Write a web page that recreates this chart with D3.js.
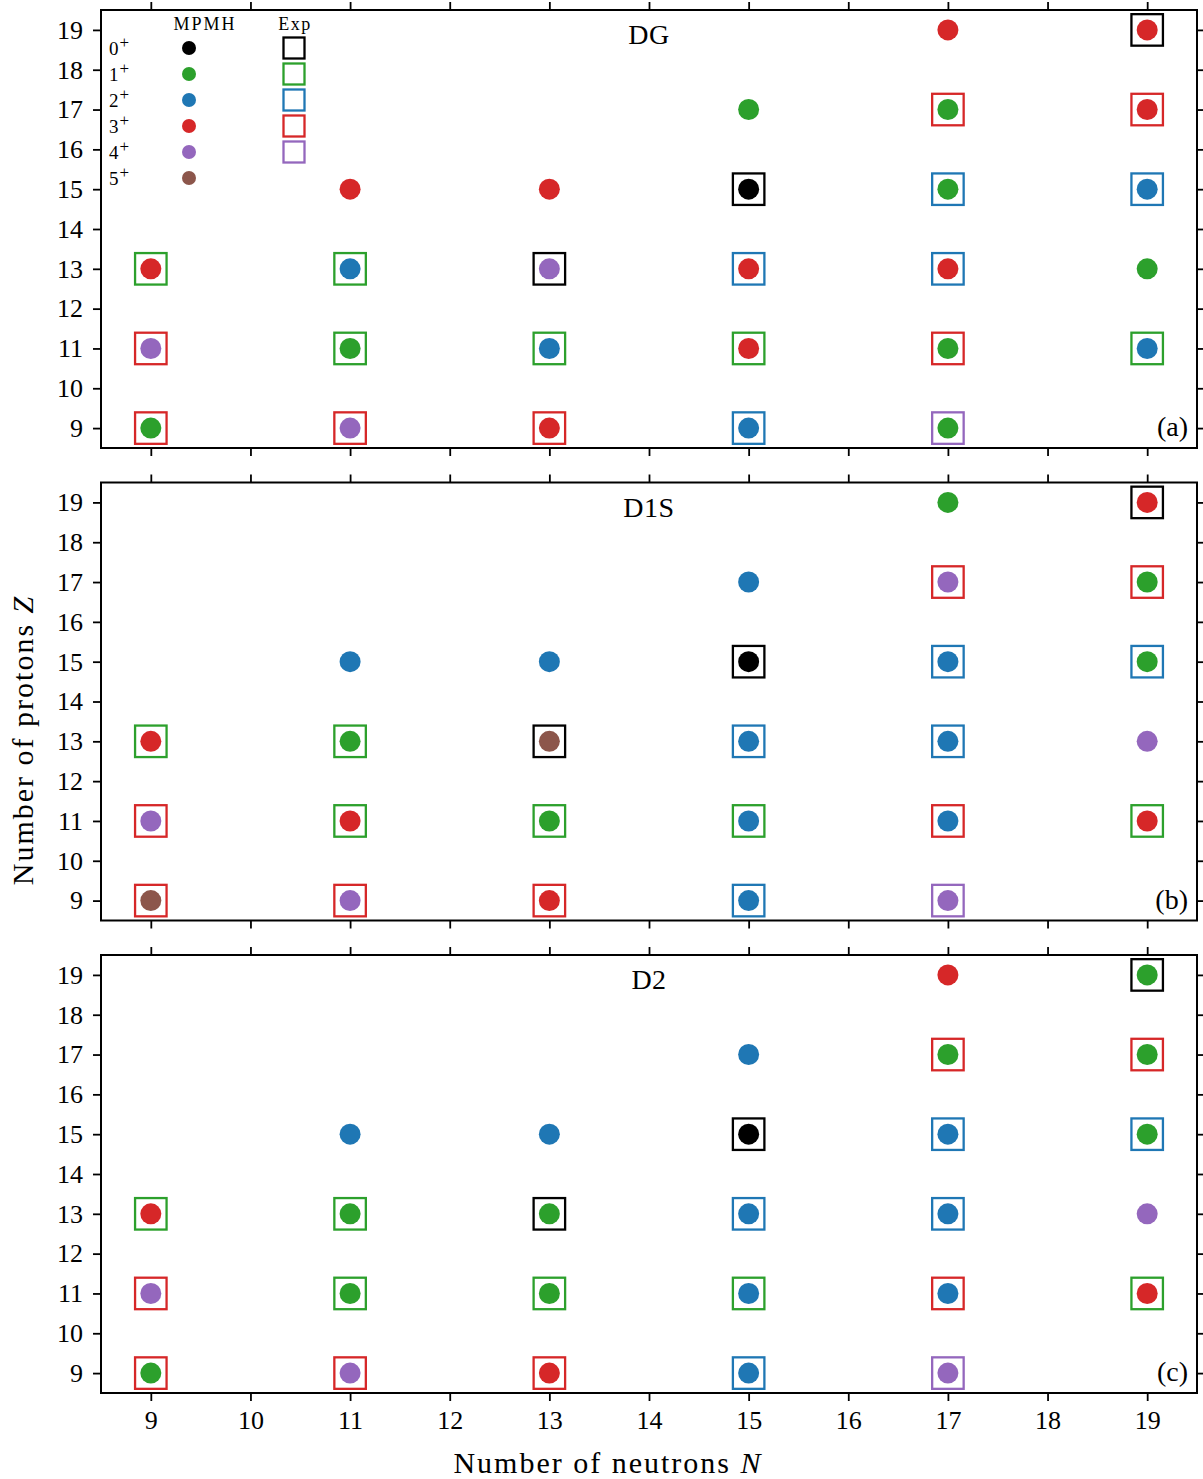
<!DOCTYPE html>
<html><head><meta charset="utf-8">
<script src="https://cdn.jsdelivr.net/npm/d3@7"></script>
<style>body{margin:0;background:#fff}</style>
</head><body>
<script>
// Data: [N, Z, J]
const xTicks = [9,10,11,12,13,14,15,16,17,18,19];
const yTicks = [9,10,11,12,13,14,15,16,17,18,19];
const spins = [0,1,2,3,4,5];
const panelNames = ["DG","D1S","D2"];
const panelTags = ["(a)","(b)","(c)"];
const expData = [
  [9,13,1],[9,11,3],[9,9,3],
  [11,13,1],[11,11,1],[11,9,3],
  [13,13,0],[13,11,1],[13,9,3],
  [15,15,0],[15,13,2],[15,11,1],[15,9,2],
  [17,17,3],[17,15,2],[17,13,2],[17,11,3],[17,9,4],
  [19,19,0],[19,17,3],[19,15,2],[19,11,1]
];
const dgData = [
  [9,13,3],[9,11,4],[9,9,1],
  [11,15,3],[11,13,2],[11,11,1],[11,9,4],
  [13,15,3],[13,13,4],[13,11,2],[13,9,3],
  [15,17,1],[15,15,0],[15,13,3],[15,11,3],[15,9,2],
  [17,19,3],[17,17,1],[17,15,1],[17,13,3],[17,11,1],[17,9,1],
  [19,19,3],[19,17,3],[19,15,2],[19,13,1],[19,11,2]
];
const d1sData = [
  [9,13,3],[9,11,4],[9,9,5],
  [11,15,2],[11,13,1],[11,11,3],[11,9,4],
  [13,15,2],[13,13,5],[13,11,1],[13,9,3],
  [15,17,2],[15,15,0],[15,13,2],[15,11,2],[15,9,2],
  [17,19,1],[17,17,4],[17,15,2],[17,13,2],[17,11,2],[17,9,4],
  [19,19,3],[19,17,1],[19,15,1],[19,13,4],[19,11,3]
];
const d2Data = [
  [9,13,3],[9,11,4],[9,9,1],
  [11,15,2],[11,13,1],[11,11,1],[11,9,4],
  [13,15,2],[13,13,1],[13,11,1],[13,9,3],
  [15,17,2],[15,15,0],[15,13,2],[15,11,2],[15,9,2],
  [17,19,3],[17,17,1],[17,15,2],[17,13,2],[17,11,2],[17,9,4],
  [19,19,1],[19,17,1],[19,15,1],[19,13,4],[19,11,3]
];
const expSpins = [0,1,2,3,4];
const colors = ["#000000","#2ca02c","#1f77b4","#d62728","#9467bd","#8c564b"];
const panelData = [dgData, d1sData, d2Data];

const W = 1203, H = 1479;
const FONT = "'Liberation Serif', 'DejaVu Serif', serif";
const svg = d3.select("body").append("svg").attr("width", W).attr("height", H)
  .style("font-family", FONT);

const left = 101, right = 1197;
const tops = [10, 482.5, 955];
const ph = 438;
const x = d3.scaleLinear().domain([8.5, 19.5]).range([left, right]);
const boxS = 31.5, dotR = 10.5;

panelNames.forEach((name, i) => {
  const top = tops[i], bottom = top + ph;
  const y = d3.scaleLinear().domain([8.5, 19.5]).range([bottom, top]);
  const g = svg.append("g");

  const axB = g.append("g").attr("transform", `translate(0,${bottom})`)
    .call(d3.axisBottom(x).tickValues(xTicks).tickSize(8).tickPadding(10).tickFormat(i === 2 ? d3.format("d") : ""));
  const axT = g.append("g").attr("transform", `translate(0,${top})`)
    .call(d3.axisTop(x).tickValues(xTicks).tickSize(8).tickFormat(""));
  const axL = g.append("g").attr("transform", `translate(${left},0)`)
    .call(d3.axisLeft(y).tickValues(yTicks).tickSize(8).tickPadding(10).tickFormat(d3.format("d")));
  const axR = g.append("g").attr("transform", `translate(${right},0)`)
    .call(d3.axisRight(y).tickValues(yTicks).tickSize(8).tickFormat(""));
  [axB, axT, axL, axR].forEach(a => {
    a.select(".domain").remove();
    a.selectAll(".tick line").attr("stroke", "#000").attr("stroke-width", 1.8);
    a.selectAll("text").attr("font-size", 26).attr("fill", "#000").style("font-family", FONT);
  });

  g.append("rect").attr("x", left).attr("y", top).attr("width", right - left).attr("height", ph)
    .attr("fill", "none").attr("stroke", "#000").attr("stroke-width", 2);

  g.selectAll(".exp").data(expData).join("rect")
    .attr("x", d => x(d[0]) - boxS / 2).attr("y", d => y(d[1]) - boxS / 2)
    .attr("width", boxS).attr("height", boxS)
    .attr("fill", "none").attr("stroke", d => colors[d[2]]).attr("stroke-width", 2.3);

  g.selectAll(".dot").data(panelData[i]).join("circle")
    .attr("cx", d => x(d[0])).attr("cy", d => y(d[1])).attr("r", dotR)
    .attr("fill", d => colors[d[2]]);

  g.append("text").attr("x", (left + right) / 2).attr("y", top + 34)
    .attr("text-anchor", "middle").attr("font-size", 28).attr("letter-spacing", 0.5).text(name);
  g.append("text").attr("x", right - 9).attr("y", bottom - 12)
    .attr("text-anchor", "end").attr("font-size", 28).text(panelTags[i]);

  if (i === 0) {
    const lg = g.append("g");
    lg.append("text").attr("x", 205).attr("y", 30).attr("text-anchor", "middle").attr("font-size", 18).attr("letter-spacing", 2).text("MPMH");
    lg.append("text").attr("x", 295).attr("y", 30).attr("text-anchor", "middle").attr("font-size", 18).attr("letter-spacing", 1.5).text("Exp");
    spins.forEach((s, k) => {
      const yy = 48 + k * 26;
      const t = lg.append("text").attr("x", 109).attr("y", yy + 7).attr("font-size", 19);
      t.append("tspan").text(s);
      t.append("tspan").attr("dx", 1).attr("dy", -7).attr("font-size", 17).text("+");
      lg.append("circle").attr("cx", 189).attr("cy", yy).attr("r", 7).attr("fill", colors[s]);
    });
    expSpins.forEach((s, k) => {
      const yy = 48 + k * 26;
      lg.append("rect").attr("x", 283.5).attr("y", yy - 10.5).attr("width", 21).attr("height", 21)
        .attr("fill", "none").attr("stroke", colors[s]).attr("stroke-width", 2.3);
    });
  }
});

const xl = svg.append("text").attr("x", 608).attr("y", 1473)
  .attr("text-anchor", "middle").attr("font-size", 30).attr("letter-spacing", 2);
xl.append("tspan").text("Number of neutrons ");
xl.append("tspan").attr("font-style", "italic").text("N");

const yl = svg.append("text").attr("transform", `translate(33,740) rotate(-90)`)
  .attr("text-anchor", "middle").attr("font-size", 30).attr("letter-spacing", 2);
yl.append("tspan").text("Number of protons ");
yl.append("tspan").attr("font-style", "italic").text("Z");
</script>
</body></html>
